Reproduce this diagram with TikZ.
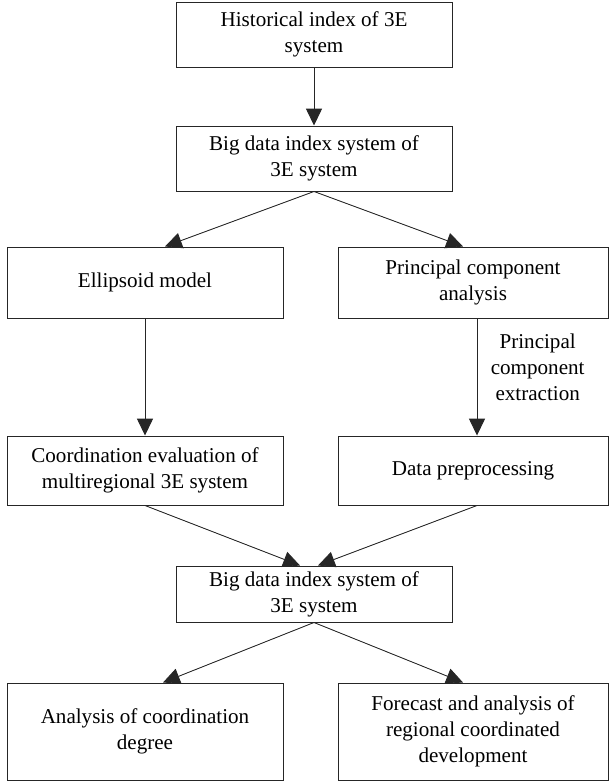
\documentclass[tikz,border=0pt]{standalone}
\usepackage{fontspec}
\setmainfont{Liberation Serif}
\usepackage{tikz}
\usetikzlibrary{arrows.meta,positioning,calc}
\tikzset{
fcbox/.style={rectangle,draw=black!85,line width=0.7pt,align=center,inner sep=2pt,minimum width=6.9cm},
fcnarrow/.style={fcbox,minimum width=6.75cm},
fcarr/.style={-{Triangle[length=4.2mm,width=4mm]},line width=0.6pt,draw=black!85,fill=black},
fclabel/.style={align=center,inner sep=1pt}
}

\begin{document}
\begin{tikzpicture}[
x=1cm,
y=1cm,
every node/.style={font=\fontsize{15}{18.5}\selectfont}
]
\useasboundingbox (0,0) rectangle (15.25,-19.55);
\node[fcbox,minimum height=1.625cm]
  (hist) at (7.85,-0.8625) {Historical index of 3E\\system};
\node[fcbox,minimum height=1.625cm]
  (bigdata) at (7.85,-3.9625) {Big data index system of\\3E system};
\node[fcbox,minimum height=1.775cm]
  (ellipsoid) at (3.625,-7.0625) {Ellipsoid model};
\node[fcnarrow,minimum height=1.775cm]
  (pca) at (11.825,-7.0625) {Principal component\\analysis};
\node[fcbox,minimum height=1.725cm]
  (coord) at (3.625,-11.7625) {Coordination evaluation of\\multiregional 3E system};
\node[fcnarrow,minimum height=1.725cm]
  (preproc) at (11.825,-11.7625) {Data preprocessing};
\node[fcbox,minimum height=1.4cm]
  (bigdatatwo) at (7.85,-14.85) {Big data index system of\\3E system};
\node[fcbox,minimum height=2.425cm]
  (degree) at (3.625,-18.2875) {Analysis of coordination\\degree};
\node[fcnarrow,minimum height=2.425cm]
  (forecast) at (11.825,-18.2875) {Forecast and analysis of\\regional coordinated\\development};
\draw[fcarr] (hist)--(bigdata);
\draw[fcarr] (bigdata.south)--([xshift=0.5cm]ellipsoid.north);
\draw[fcarr] (bigdata.south)--([xshift=-0.25cm]pca.north);
\draw[fcarr] (ellipsoid)--(coord);
\draw[fcarr] ([xshift=0.1cm]pca.south)--node[fclabel,right=0.3cm,pos=0.42]{Principal\\component\\extraction}([xshift=0.1cm]preproc.north);
\draw[fcarr] (coord.south)--([xshift=-0.35cm]bigdatatwo.north);
\draw[fcarr] ([xshift=0.1cm]preproc.south)--([xshift=0.1cm]bigdatatwo.north);
\draw[fcarr] (bigdatatwo.south)--([xshift=0.45cm]degree.north);
\draw[fcarr] (bigdatatwo.south)--([xshift=-0.25cm]forecast.north);
\end{tikzpicture}
\end{document}
